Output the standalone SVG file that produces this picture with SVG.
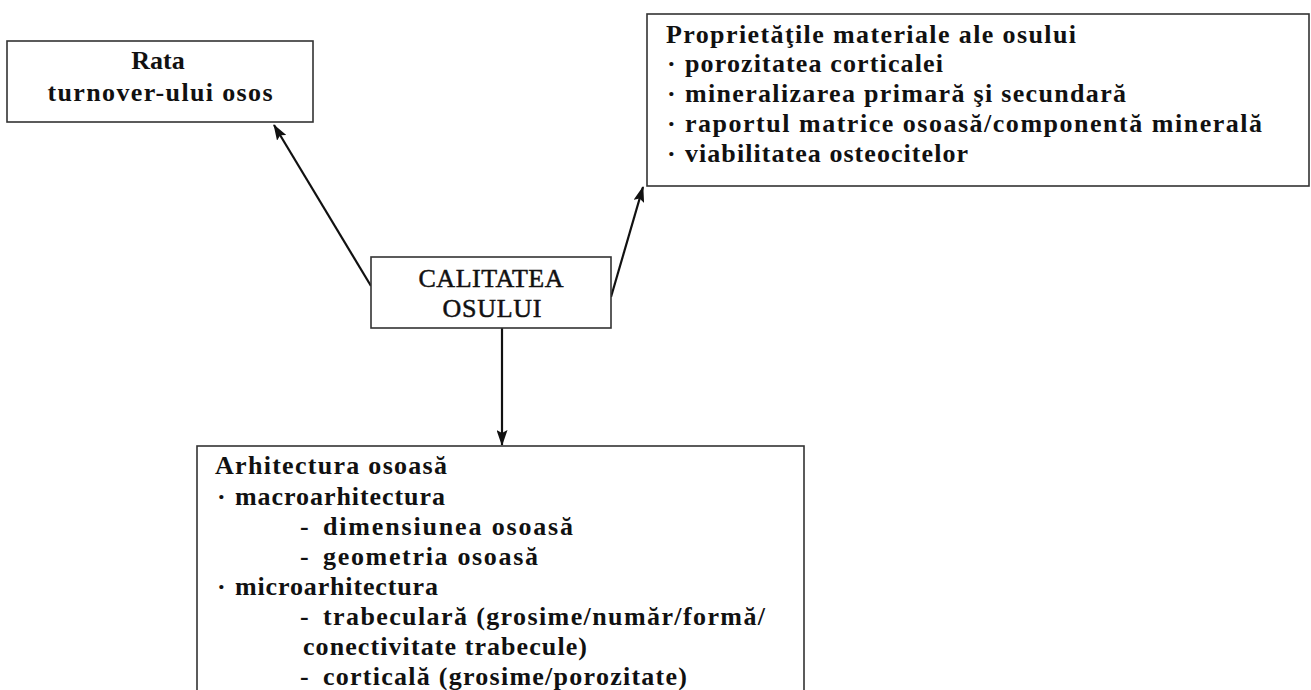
<svg xmlns="http://www.w3.org/2000/svg" width="1311" height="690" viewBox="0 0 1311 690">
<style>
.box{fill:#fff;stroke:#333;stroke-width:1.6}
.t{font-family:"Liberation Serif","DejaVu Serif",serif;font-weight:bold;font-size:26px;fill:#111}
.c{text-anchor:middle}
.big{font-size:26px;font-weight:normal;stroke:#111;stroke-width:0.5}
.conn{stroke:#111;stroke-width:2.2;fill:none;marker-end:url(#ah)}
</style>
<defs>
<marker id="ah" viewBox="0 0 16 11" refX="15" refY="5.5" markerWidth="16" markerHeight="11" orient="auto" markerUnits="userSpaceOnUse">
<path d="M0,0 L16,5.5 L0,11 L3,5.5 z" fill="#111"/>
</marker>
</defs>
<rect width="1311" height="690" fill="#fff"/>
<g id="connectors">
<line class="conn" x1="371" y1="286" x2="274" y2="125"/>
<line class="conn" x1="611" y1="297" x2="643" y2="187"/>
<line class="conn" x1="502" y1="328" x2="502" y2="445"/>
</g>
<g id="node-rata">
<rect class="box" x="7" y="41" width="306" height="81"/>
<text class="t c" x="158" y="69">Rata</text>
<text class="t c" x="160" y="101" textLength="225">turnover-ului osos</text>
</g>
<g id="node-calitatea">
<rect class="box" x="371" y="257" width="240" height="71"/>
<text class="t c big" x="491" y="287" textLength="145">CALITATEA</text>
<text class="t c big" x="492" y="317" textLength="99">OSULUI</text>
</g>
<g id="node-proprietati">
<rect class="box" x="647" y="14" width="662" height="172"/>
<text class="t" x="666" y="43" textLength="410">Proprietăţile materiale ale osului</text>
<text class="t" x="667" y="72">·</text>
<text class="t" x="685" y="72" textLength="258">porozitatea corticalei</text>
<text class="t" x="667" y="102">·</text>
<text class="t" x="685" y="102" textLength="441">mineralizarea primară şi secundară</text>
<text class="t" x="667" y="132">·</text>
<text class="t" x="685" y="132" textLength="577">raportul matrice osoasă/componentă minerală</text>
<text class="t" x="667" y="162">·</text>
<text class="t" x="685" y="162" textLength="283">viabilitatea osteocitelor</text>
</g>
<g id="node-arhitectura">
<rect class="box" x="197" y="446" width="607" height="260"/>
<text class="t" x="215" y="474" textLength="232">Arhitectura osoasă</text>
<text class="t" x="217" y="505">·</text>
<text class="t" x="235" y="505" textLength="210">macroarhitectura</text>
<text class="t" x="300" y="535">-</text>
<text class="t" x="323" y="535" textLength="250">dimensiunea osoasă</text>
<text class="t" x="300" y="565">-</text>
<text class="t" x="323" y="565" textLength="215">geometria osoasă</text>
<text class="t" x="217" y="595">·</text>
<text class="t" x="235" y="595" textLength="203">microarhitectura</text>
<text class="t" x="300" y="625">-</text>
<text class="t" x="323" y="625" textLength="442">trabeculară (grosime/număr/formă/</text>
<text class="t" x="303" y="655" textLength="284">conectivitate trabecule)</text>
<text class="t" x="300" y="685">-</text>
<text class="t" x="323" y="685" textLength="364">corticală (grosime/porozitate)</text>
</g>
</svg>
